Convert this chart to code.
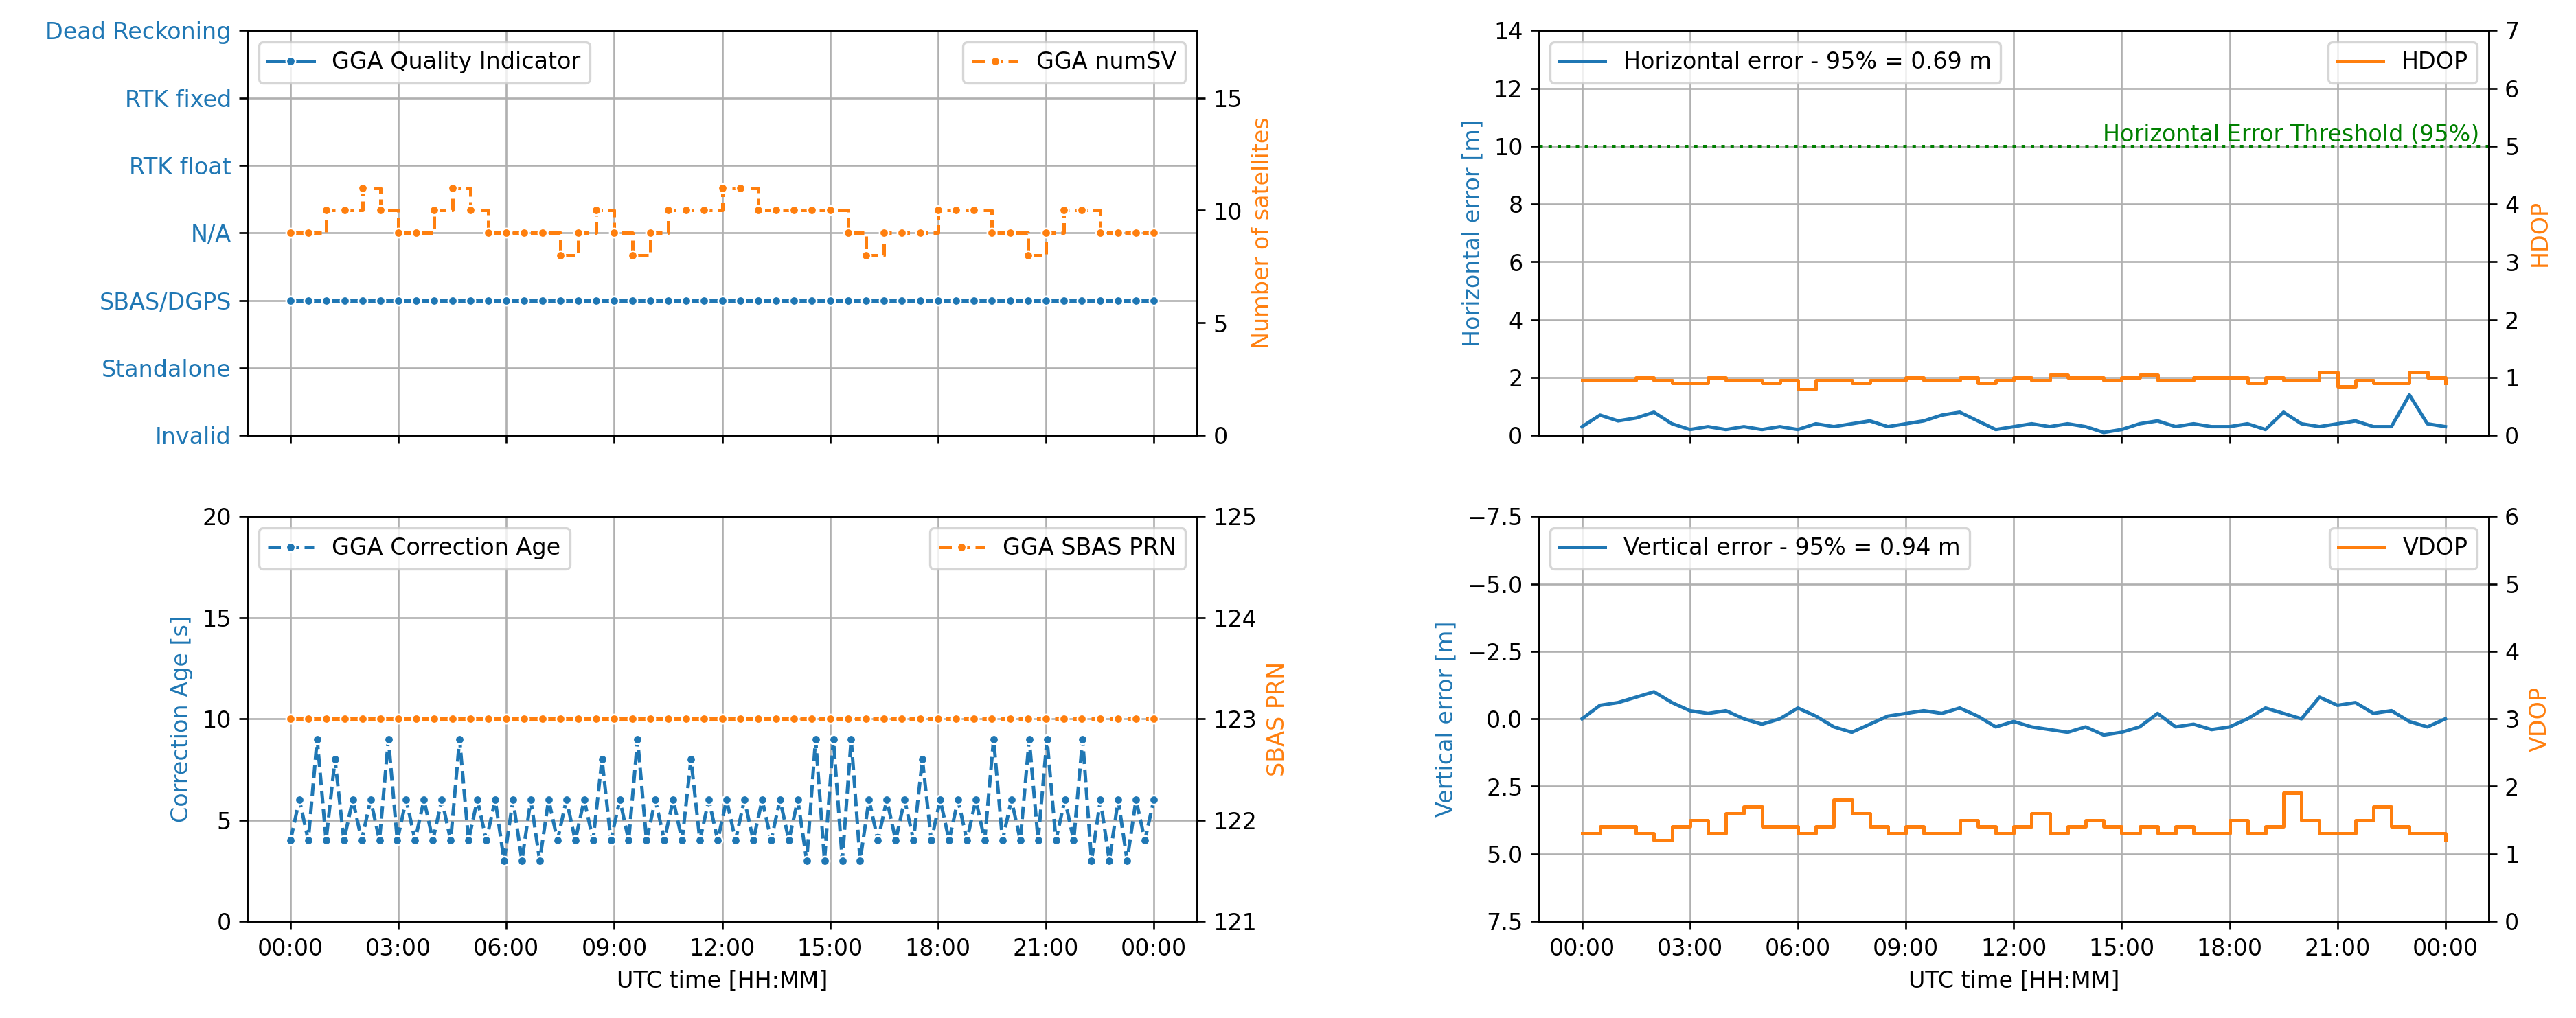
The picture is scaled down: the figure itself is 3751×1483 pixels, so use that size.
import numpy as np, pandas as pd, matplotlib
matplotlib.use("Agg")
import matplotlib.pyplot as plt, matplotlib.dates as mdates, seaborn as sns

quality_labels = ["Invalid","Standalone","SBAS/DGPS","N/A","RTK float","RTK fixed","Dead Reckoning"]
quality = [2]*49
num_sv = [9,9,10,10,11,10,9,9,10,11,10,9,9,9,9,8,9,10,9,8,9,10,10,10,11,11,10,10,10,10,10,9,8,9,9,9,10,10,10,9,9,8,9,10,10,9,9,9,9]
age_low = [4,4,4,4,4,4,4,4,4,4,4,4,3,3,3,4,4,4,4,4,4,4,4,4,4,4,4,4,4,3,3,3,3,4,4,4,4,4,4,4,4,4,4,4,4,3,3,3,4]
age_high = [6,9,8,6,6,9,6,6,6,9,6,6,6,6,6,6,6,8,6,9,6,6,8,6,6,6,6,6,6,9,9,9,6,6,6,8,6,6,6,9,6,9,9,6,9,6,6,6,6]
sbas_prn = [123]*49
h_err = [0.3,0.7,0.5,0.6,0.8,0.4,0.2,0.3,0.2,0.3,0.2,0.3,0.2,0.4,0.3,0.4,0.5,0.3,0.4,0.5,0.7,0.8,0.5,0.2,0.3,0.4,0.3,0.4,0.3,0.1,0.2,0.4,0.5,0.3,0.4,0.3,0.3,0.4,0.2,0.8,0.4,0.3,0.4,0.5,0.3,0.3,1.4,0.4,0.3]
hdop = [0.95,0.95,0.95,1.0,0.95,0.9,0.9,1.0,0.95,0.95,0.9,0.95,0.8,0.95,0.95,0.9,0.95,0.95,1.0,0.95,0.95,1.0,0.9,0.95,1.0,0.95,1.05,1.0,1.0,0.95,1.0,1.05,0.95,0.95,1.0,1.0,1.0,0.9,1.0,0.95,0.95,1.1,0.85,0.95,0.9,0.9,1.1,1.0,0.9]
v_err = [0.0,-0.5,-0.6,-0.8,-1.0,-0.6,-0.3,-0.2,-0.3,0.0,0.2,0.0,-0.4,-0.1,0.3,0.5,0.2,-0.1,-0.2,-0.3,-0.2,-0.4,-0.1,0.3,0.1,0.3,0.4,0.5,0.3,0.6,0.5,0.3,-0.2,0.3,0.2,0.4,0.3,0.0,-0.4,-0.2,0.0,-0.8,-0.5,-0.6,-0.2,-0.3,0.1,0.3,0.0]
vdop = [1.3,1.4,1.4,1.3,1.2,1.4,1.5,1.3,1.6,1.7,1.4,1.4,1.3,1.4,1.8,1.6,1.4,1.3,1.4,1.3,1.3,1.5,1.4,1.3,1.4,1.6,1.3,1.4,1.5,1.4,1.3,1.4,1.3,1.4,1.3,1.3,1.5,1.3,1.4,1.9,1.5,1.3,1.3,1.5,1.7,1.4,1.3,1.3,1.2]

def times(n):
    return pd.date_range("2024-01-01 00:00", "2024-01-02 00:00", periods=n)

B, O = "#1f77b4", "#ff7f0e"
fig, axs = plt.subplots(2, 2, figsize=(15.63, 6.18), dpi=240, sharex="col")
fig.subplots_adjust(left=0.096, right=0.966, top=0.97, bottom=0.095, wspace=0.36, hspace=0.2)

def finish(ax, ax2):
    ax.grid(True); ax.legend(loc="upper left"); ax2.legend(loc="upper right")
    ax.yaxis.label.set_color(B); ax2.yaxis.label.set_color(O)

# top-left
ax = axs[0,0]; ax2 = ax.twinx()
sns.lineplot(x=times(49), y=quality, ax=ax, color=B, marker="o", markersize=4, label="GGA Quality Indicator")
sns.lineplot(x=times(49), y=num_sv, ax=ax2, color=O, marker="o", markersize=4, linestyle="--", drawstyle="steps-post", label="GGA numSV")
ax.set_ylim(0, 6); ax.set_yticks(range(7)); ax.set_yticklabels(quality_labels, color=B)
ax2.set_ylim(0, 18); ax2.set_yticks([0,5,10,15]); ax2.set_ylabel("Number of satellites")
finish(ax, ax2)

# bottom-left
ax = axs[1,0]; ax2 = ax.twinx()
age = [v for pair in zip(age_low, age_high) for v in pair]
sns.lineplot(x=times(len(age)), y=age, ax=ax, color=B, marker="o", markersize=4, linestyle="--", label="GGA Correction Age")
sns.lineplot(x=times(49), y=sbas_prn, ax=ax2, color=O, marker="o", markersize=4, linestyle="--", label="GGA SBAS PRN")
ax.set_ylim(0, 20); ax.set_yticks([0,5,10,15,20]); ax.set_ylabel("Correction Age [s]")
ax2.set_ylim(121, 125); ax2.set_yticks([121,122,123,124,125]); ax2.set_ylabel("SBAS PRN")
finish(ax, ax2)

# top-right
ax = axs[0,1]; ax2 = ax.twinx()
sns.lineplot(x=times(49), y=h_err, ax=ax, color=B, label="Horizontal error - 95% = 0.69 m")
sns.lineplot(x=times(49), y=hdop, ax=ax2, color=O, drawstyle="steps-post", label="HDOP")
ax.axhline(10, color="green", linestyle=":")
ax.text(0.99, 10.0, "Horizontal Error Threshold (95%)", color="green", ha="right", va="bottom", transform=ax.get_yaxis_transform())
ax.set_ylim(0, 14); ax.set_ylabel("Horizontal error [m]")
ax2.set_ylim(0, 7); ax2.set_ylabel("HDOP")
finish(ax, ax2)

# bottom-right
ax = axs[1,1]; ax2 = ax.twinx()
sns.lineplot(x=times(49), y=v_err, ax=ax, color=B, label="Vertical error - 95% = 0.94 m")
sns.lineplot(x=times(49), y=vdop, ax=ax2, color=O, drawstyle="steps-post", label="VDOP")
ax.set_ylim(7.5, -7.5); ax.set_yticks([-7.5,-5,-2.5,0,2.5,5,7.5]); ax.set_ylabel("Vertical error [m]")
ax2.set_ylim(0, 6); ax2.set_ylabel("VDOP")
finish(ax, ax2)

for a in axs[1]:
    a.xaxis.set_major_locator(mdates.HourLocator(byhour=range(0,24,3)))
    a.xaxis.set_major_formatter(mdates.DateFormatter("%H:%M"))
    a.set_xlabel("UTC time [HH:MM]")
for a in axs[0]:
    a.set_xlabel("")
fig.savefig("out.png")
